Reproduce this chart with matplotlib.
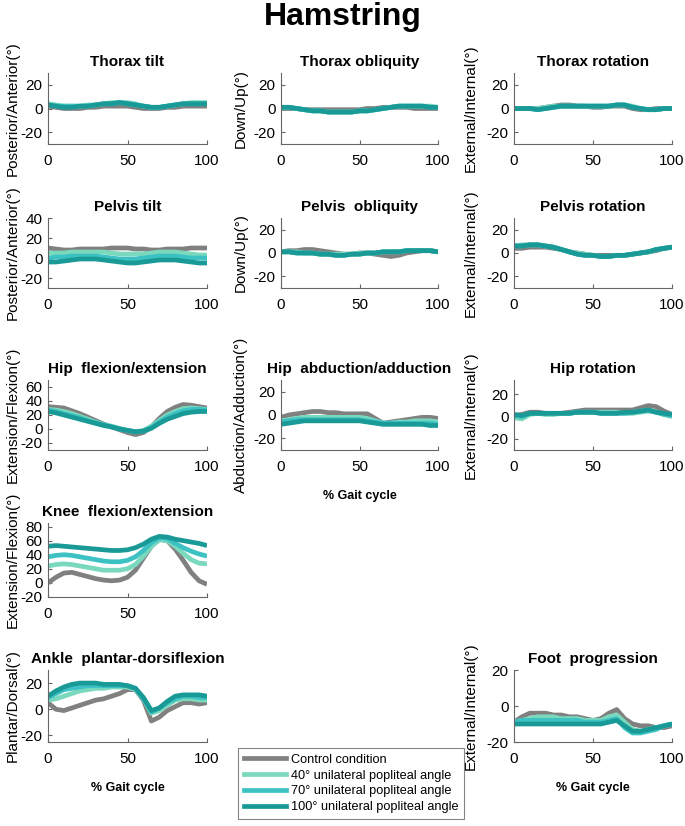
import matplotlib
matplotlib.use("Agg")
import matplotlib.pyplot as plt
from matplotlib.lines import Line2D

plt.rcParams['font.family'] = ['Liberation Sans', 'DejaVu Sans']
plt.rcParams['axes.unicode_minus'] = False

# ---------------- data ----------------
gait = [0, 5, 10, 15, 20, 25, 30, 35, 40, 45, 50, 55, 60, 65, 70, 75, 80, 85, 90, 95, 100]
conditions = ["Control condition",
              "40° unilateral popliteal angle",
              "70° unilateral popliteal angle",
              "100° unilateral popliteal angle"]

thorax_tilt_ctrl = [2, 1, 0, 0, 0, 1, 1, 2, 2, 2, 2, 1, 0, 0, 0, 1, 1, 2, 2, 2, 2]
thorax_tilt_40 = [4, 3, 2, 2, 2, 3, 3, 4, 5, 5, 5, 4, 2, 1, 1, 2, 3, 4, 5, 5, 5]
thorax_tilt_70 = [3, 2, 2, 2, 2, 2, 3, 4, 4, 5, 4, 3, 2, 1, 1, 2, 3, 4, 4, 4, 4]
thorax_tilt_100 = [3, 2, 1, 1, 2, 2, 3, 4, 4, 5, 4, 3, 2, 1, 1, 2, 3, 4, 4, 4, 4]

thorax_obl_ctrl = [0, 0, 0, -1, -1, -1, -1, -1, -1, -1, -1, 0, 0, 1, 1, 1, 1, 0, 0, 0, 0]
thorax_obl_40 = [1, 1, 0, -1, -2, -2, -3, -3, -3, -3, -2, -2, -1, 0, 1, 2, 2, 2, 2, 2, 1]
thorax_obl_70 = [1, 1, 0, -1, -2, -2, -3, -3, -3, -3, -2, -2, -1, 0, 1, 2, 2, 2, 2, 1, 1]
thorax_obl_100 = [1, 1, 0, -1, -2, -2, -3, -3, -3, -3, -2, -2, -1, 0, 1, 2, 2, 2, 2, 1, 1]

thorax_rot_ctrl = [0, 0, 0, 0, 1, 2, 3, 3, 2, 2, 1, 1, 2, 2, 2, 0, -1, -1, 0, 0, 0]
thorax_rot_40 = [0, 0, 0, 0, 1, 2, 2, 2, 2, 2, 2, 2, 2, 3, 3, 2, 0, -1, -1, 0, 0]
thorax_rot_70 = [0, 0, 0, -1, 0, 1, 2, 2, 2, 2, 2, 2, 2, 3, 3, 1, 0, -1, -1, 0, 0]
thorax_rot_100 = [0, 0, 0, -1, 0, 1, 2, 2, 2, 2, 2, 2, 2, 3, 3, 1, 0, -1, -1, 0, 0]

pelvis_tilt_ctrl = [10, 9, 8, 8, 9, 9, 9, 9, 10, 10, 10, 9, 9, 8, 8, 9, 9, 9, 10, 10, 10]
pelvis_tilt_40 = [5, 5, 5, 6, 6, 6, 6, 6, 5, 4, 4, 4, 4, 5, 6, 6, 6, 5, 4, 3, 3]
pelvis_tilt_70 = [0, 1, 1, 2, 2, 2, 2, 1, 0, -1, -1, -1, 0, 1, 2, 2, 2, 1, 0, 0, 0]
pelvis_tilt_100 = [-4, -4, -3, -2, -1, -1, -1, -2, -3, -4, -5, -5, -4, -3, -2, -2, -2, -3, -4, -5, -5]

pelvis_obl_ctrl = [1, 2, 2, 3, 3, 2, 1, 0, -1, -1, 0, 0, -1, -2, -3, -2, 0, 1, 2, 2, 1]
pelvis_obl_40 = [1, 1, 1, 0, 0, -1, -1, -1, -1, -1, 0, 0, 0, 1, 1, 1, 2, 2, 2, 2, 1]
pelvis_obl_70 = [1, 1, 0, 0, 0, -1, -1, -2, -2, -1, -1, 0, 0, 1, 1, 1, 2, 2, 2, 2, 1]
pelvis_obl_100 = [1, 1, 0, 0, 0, -1, -1, -2, -2, -1, -1, 0, 0, 1, 1, 1, 2, 2, 2, 2, 1]

pelvis_rot_ctrl = [4, 4, 5, 5, 5, 4, 3, 1, 0, -1, -2, -2, -2, -2, -2, -1, 0, 1, 2, 4, 5]
pelvis_rot_40 = [6, 7, 7, 7, 6, 5, 3, 1, 0, -1, -2, -3, -3, -2, -2, -1, 0, 1, 3, 4, 5]
pelvis_rot_70 = [6, 6, 7, 7, 6, 5, 3, 1, -1, -2, -2, -3, -3, -2, -2, -1, 0, 1, 3, 4, 5]
pelvis_rot_100 = [6, 6, 7, 7, 6, 5, 3, 1, -1, -2, -2, -3, -3, -2, -2, -1, 0, 1, 3, 4, 5]

hip_flex_ctrl = [32, 31, 30, 26, 22, 17, 12, 7, 3, -1, -5, -8, -5, 3, 15, 25, 31, 35, 34, 32, 30]
hip_flex_40 = [28, 27, 25, 22, 18, 14, 10, 6, 4, 1, -2, -4, -2, 4, 12, 20, 25, 29, 30, 29, 28]
hip_flex_70 = [27, 25, 22, 19, 16, 12, 9, 6, 3, 0, -2, -4, -3, 2, 10, 17, 22, 26, 28, 28, 27]
hip_flex_100 = [25, 23, 20, 17, 14, 11, 8, 5, 3, 0, -2, -4, -3, 1, 8, 14, 18, 22, 24, 25, 25]

hip_abd_ctrl = [-2, 0, 1, 2, 3, 3, 2, 2, 1, 1, 1, 1, -3, -7, -6, -5, -4, -3, -2, -2, -3]
hip_abd_40 = [-5, -4, -3, -2, -2, -2, -2, -2, -2, -2, -2, -3, -5, -7, -7, -6, -6, -5, -5, -5, -6]
hip_abd_70 = [-6, -5, -4, -4, -4, -4, -4, -4, -4, -4, -4, -5, -6, -7, -7, -7, -7, -7, -7, -7, -8]
hip_abd_100 = [-8, -7, -6, -5, -5, -5, -5, -5, -5, -5, -5, -6, -7, -8, -8, -8, -8, -8, -8, -9, -9]

hip_rot_ctrl = [1, 2, 4, 4, 3, 3, 3, 4, 5, 6, 6, 6, 6, 6, 6, 6, 8, 10, 9, 5, 2]
hip_rot_40 = [-1, -2, 2, 3, 2, 2, 3, 3, 4, 4, 4, 4, 4, 4, 3, 3, 4, 5, 4, 2, 0]
hip_rot_70 = [1, 0, 3, 3, 3, 3, 3, 3, 4, 4, 4, 3, 3, 3, 3, 4, 5, 6, 4, 2, 1]
hip_rot_100 = [2, 1, 3, 3, 3, 3, 3, 3, 4, 4, 4, 3, 3, 3, 4, 4, 5, 6, 4, 3, 2]

knee_ctrl = [0, 8, 14, 15, 12, 9, 6, 4, 3, 4, 8, 18, 35, 52, 62, 60, 48, 32, 15, 3, -2]
knee_40 = [24, 26, 27, 26, 24, 22, 20, 18, 18, 18, 20, 26, 38, 52, 61, 60, 52, 42, 33, 28, 27]
knee_70 = [37, 39, 40, 39, 37, 35, 33, 31, 30, 30, 32, 37, 46, 57, 64, 63, 56, 50, 45, 41, 38]
knee_100 = [52, 53, 52, 51, 50, 49, 48, 47, 46, 46, 47, 50, 55, 62, 66, 65, 62, 60, 58, 56, 53]

ankle_ctrl = [5, 0, -1, 1, 3, 5, 7, 8, 10, 12, 15, 15, 7, -9, -6, -1, 2, 5, 5, 4, 5]
ankle_40 = [7, 8, 10, 12, 14, 15, 16, 16, 17, 17, 17, 15, 8, -3, -1, 3, 7, 8, 8, 7, 7]
ankle_70 = [9, 12, 15, 16, 17, 18, 18, 18, 18, 18, 18, 16, 8, -2, 1, 5, 8, 10, 10, 9, 9]
ankle_100 = [10, 14, 17, 19, 20, 20, 20, 19, 19, 19, 18, 16, 9, -1, 1, 6, 10, 11, 11, 11, 10]

foot_ctrl = [-9, -6, -4, -4, -4, -5, -5, -6, -6, -7, -8, -7, -4, -2, -7, -10, -11, -11, -12, -12, -11]
foot_40 = [-9, -8, -7, -6, -6, -6, -7, -7, -7, -8, -8, -8, -6, -5, -9, -13, -14, -13, -12, -11, -10]
foot_70 = [-9, -8, -8, -8, -8, -8, -8, -8, -8, -9, -9, -9, -8, -7, -12, -15, -15, -14, -13, -11, -10]
foot_100 = [-10, -10, -10, -10, -10, -10, -10, -10, -10, -10, -10, -10, -9, -8, -11, -14, -14, -13, -12, -11, -10]

colors = ['#808080', '#7ad9bd', '#3dc2c4', '#1a9a97']

# panel spec: title, ylabel, series, ylim, yticks, row, col, xlabel
panels = [
    ("Thorax tilt", "Posterior/Anterior(°)",
     [thorax_tilt_ctrl, thorax_tilt_40, thorax_tilt_70, thorax_tilt_100], (-30, 30), [-20, 0, 20], 0, 0, False),
    ("Thorax obliquity", "Down/Up(°)",
     [thorax_obl_ctrl, thorax_obl_40, thorax_obl_70, thorax_obl_100], (-30, 30), [-20, 0, 20], 0, 1, False),
    ("Thorax rotation", "External/Internal(°)",
     [thorax_rot_ctrl, thorax_rot_40, thorax_rot_70, thorax_rot_100], (-30, 30), [-20, 0, 20], 0, 2, False),
    ("Pelvis tilt", "Posterior/Anterior(°)",
     [pelvis_tilt_ctrl, pelvis_tilt_40, pelvis_tilt_70, pelvis_tilt_100], (-30, 40), [-20, 0, 20, 40], 1, 0, False),
    ("Pelvis  obliquity", "Down/Up(°)",
     [pelvis_obl_ctrl, pelvis_obl_40, pelvis_obl_70, pelvis_obl_100], (-30, 30), [-20, 0, 20], 1, 1, False),
    ("Pelvis rotation", "External/Internal(°)",
     [pelvis_rot_ctrl, pelvis_rot_40, pelvis_rot_70, pelvis_rot_100], (-30, 30), [-20, 0, 20], 1, 2, False),
    ("Hip  flexion/extension", "Extension/Flexion(°)",
     [hip_flex_ctrl, hip_flex_40, hip_flex_70, hip_flex_100], (-30, 70), [-20, 0, 20, 40, 60], 2, 0, False),
    ("Hip  abduction/adduction", "Abduction/Adduction(°)",
     [hip_abd_ctrl, hip_abd_40, hip_abd_70, hip_abd_100], (-30, 30), [-20, 0, 20], 2, 1, True),
    ("Hip rotation", "External/Internal(°)",
     [hip_rot_ctrl, hip_rot_40, hip_rot_70, hip_rot_100], (-30, 33), [-20, 0, 20], 2, 2, False),
    ("Knee  flexion/extension", "Extension/Flexion(°)",
     [knee_ctrl, knee_40, knee_70, knee_100], (-20, 85), [-20, 0, 20, 40, 60, 80], 3, 0, False),
    ("Ankle  plantar-dorsiflexion", "Plantar/Dorsal(°)",
     [ankle_ctrl, ankle_40, ankle_70, ankle_100], (-25, 30), [-20, 0, 20], 4, 0, True),
    ("Foot  progression", "External/Internal(°)",
     [foot_ctrl, foot_40, foot_70, foot_100], (-20, 20), [-20, 0, 20], 4, 2, True),
]

W, H = 685, 826
fig = plt.figure(figsize=(W / 100, H / 100), dpi=100)

col_px = [(48, 207), (281, 438), (514, 672)]
row_px = [(73, 144), (218, 288), (380, 450), (523, 597), (670, 742)]
ylab_px = [20, 248, 478]

for title, ylabel, series, ylim, yticks, r, c, xl in panels:
    x0, x1 = col_px[c]
    y0, y1 = row_px[r]
    ax = fig.add_axes([x0 / W, 1 - y1 / H, (x1 - x0) / W, (y1 - y0) / H])
    for s, col in zip(series, colors):
        ax.plot(gait, s, color=col, lw=3.4, solid_capstyle='butt')
    ax.set_xlim(0, 100)
    ax.set_ylim(*ylim)
    ax.set_xticks([0, 50, 100])
    ax.set_yticks(yticks)
    for side in ['top', 'right']:
        ax.spines[side].set_visible(False)
    for side in ['left', 'bottom']:
        ax.spines[side].set_color('#666666')
        ax.spines[side].set_linewidth(0.8)
    ax.tick_params(direction='in', length=3, width=0.8, color='#666666',
                   labelsize=11, pad=4)
    ax.tick_params(axis='x', pad=7)
    ax.set_title(title, fontsize=11, fontweight='bold', pad=5)
    ax.set_ylabel(ylabel, fontsize=11)
    ax.yaxis.set_label_coords((ylab_px[c] - x0) / (x1 - x0), 0.5)
    if xl:
        ax.set_xlabel("% Gait cycle", fontsize=9, fontweight='bold')
        ax.xaxis.set_label_coords(0.5, -(40) / (y1 - y0))

fig.text(0.5, 1 - 17 / H, "Hamstring", ha='center', va='center',
         fontsize=23, fontweight='bold')

handles = [Line2D([], [], color=col, lw=3.4) for col in colors]
leg = fig.legend(handles, conditions, loc='upper left',
                 bbox_to_anchor=(238 / W, 1 - 748 / H), borderaxespad=0,
                 fontsize=9.2, frameon=True, fancybox=False, edgecolor='#666666',
                 handlelength=3.3, handletextpad=0.4, labelspacing=0.3,
                 borderpad=0.45)
leg.get_frame().set_linewidth(0.8)

fig.savefig("out.png", dpi=100)
